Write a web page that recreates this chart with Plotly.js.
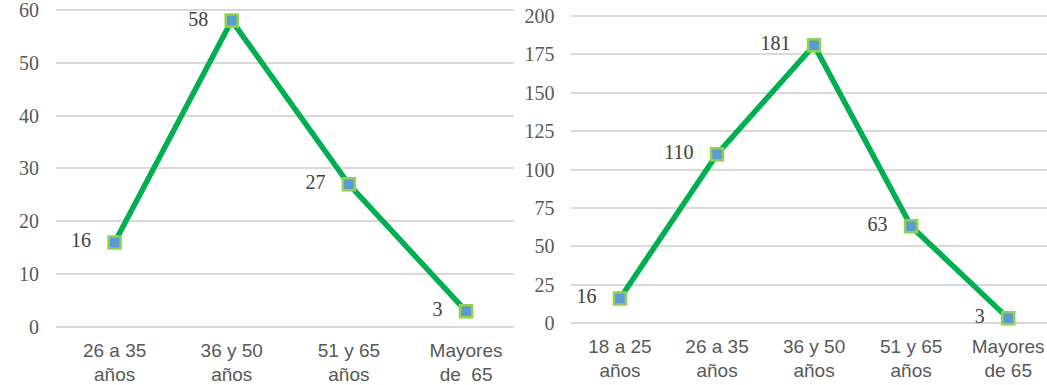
<!DOCTYPE html>
<html>
<head>
<meta charset="utf-8">
<script src="https://cdn.plot.ly/plotly-3.0.1.min.js"></script>
<style>html,body{margin:0;padding:0;background:#fff;}#chart{width:1047px;height:385px;}</style>
</head>
<body>
<div id="chart"></div>
<script>
const leftCategories = ["26 a 35<br>años", "36 y 50<br>años", "51 y 65<br>años", "Mayores<br>de  65"];
const leftValues = [16, 58, 27, 3];
const rightCategories = ["18 a 25<br>años", "26 a 35<br>años", "36 y 50<br>años", "51 y 65<br>años", "Mayores<br>de 65"];
const rightValues = [16, 110, 181, 63, 3];
const leftTicks = [0, 10, 20, 30, 40, 50, 60];
const rightTicks = [0, 25, 50, 75, 100, 125, 150, 175, 200];

const lineColor = "#00B050";
const markerStyle = {symbol: "square", size: 12, color: "#5B9BD5", line: {color: "#92D050", width: 2.5}};
const labelFont = {family: "Liberation Serif, Times New Roman, serif", size: 20, color: "#404040"};
const xFont = {family: "Liberation Sans Narrow, Arial Narrow, Liberation Sans, sans-serif", size: 19, color: "#595959"};
const yFont = {family: "Liberation Serif, Times New Roman, serif", size: 20, color: "#595959"};

function trace(cats, vals, xa, ya) {
  return {
    x: cats, y: vals, xaxis: xa, yaxis: ya,
    type: "scatter", mode: "lines+markers+text",
    line: {color: lineColor, width: 5.5},
    marker: markerStyle,
    text: vals.map(v => String(v) + "\u00a0\u00a0\u00a0"),
    textposition: "middle left",
    textfont: labelFont,
    cliponaxis: false,
    hoverinfo: "skip"
  };
}

const data = [
  trace(leftCategories, leftValues, "x", "y"),
  trace(rightCategories, rightValues, "x2", "y2")
];

function xaxis(domain, range, anchor) {
  return {
    domain: domain, anchor: anchor, type: "category",
    range: range, showgrid: false, zeroline: false, showline: false,
    tickfont: xFont, ticks: "", ticklabelstandoff: 8, fixedrange: true
  };
}
function yaxis(domain, range, ticks, anchor) {
  return {
    domain: domain, anchor: anchor, range: range,
    tickvals: ticks, ticktext: ticks.map(String),
    showgrid: true, gridcolor: "#d9d9d9", gridwidth: 2,
    zeroline: false, showline: false, ticks: "",
    tickfont: yFont, ticklabelstandoff: 16, ticklabeloverflow: "allow", fixedrange: true
  };
}

const layout = {
  width: 1047, height: 385,
  margin: {l: 0, r: 0, t: 0, b: 0},
  paper_bgcolor: "#ffffff", plot_bgcolor: "#ffffff",
  showlegend: false,
  xaxis: xaxis([0.0535, 0.491], [-0.5, 3.41], "y"),
  yaxis: yaxis([0.1465, 0.9782], [-0.3, 60.3], leftTicks, "x"),
  xaxis2: xaxis([0.5458, 1], [-0.5, 4.40], "y2"),
  yaxis2: yaxis([0.1571, 0.9623], [-1, 201], rightTicks, "x2")
};

Plotly.newPlot("chart", data, layout, {displayModeBar: false, staticPlot: true});
</script>
</body>
</html>
